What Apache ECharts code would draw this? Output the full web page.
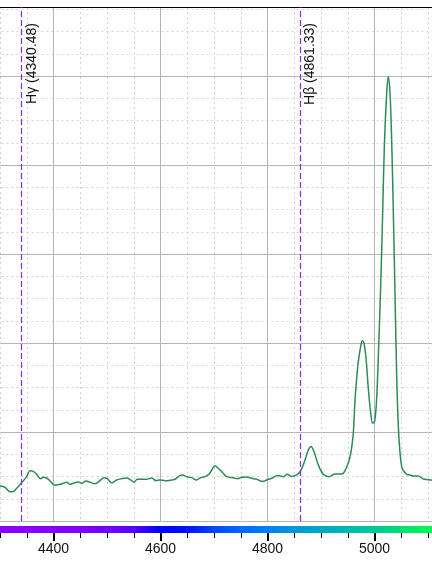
<!DOCTYPE html>
<html><head><meta charset="utf-8">
<script src="https://cdn.jsdelivr.net/npm/echarts@6/dist/echarts.min.js"></script>
<style>html,body{margin:0;padding:0;background:#fff}#c{width:432px;height:563px}</style>
</head><body><div id="c"></div>
<script>
// Spectrum (wavelength in Å, relative intensity)
const wavelength = [4300,4309.3,4318.7,4323.7,4331.2,4341.7,4349.9,4356.1,4362.2,4368.6,4376.1,4380.9,4387.3,4393.5,4402.8,4412.1,4418.3,4424.7,4430.8,4437.0,4446.4,4452.7,4460.7,4468.2,4477.6,4486.9,4494.4,4500.6,4508.8,4518.1,4527.5,4536.8,4544.3,4550.5,4556.6,4567.9,4574.2,4583.6,4591.6,4599.1,4608.4,4620.9,4627.1,4635.1,4641.5,4649.0,4658.3,4667.6,4673.8,4683.2,4691.2,4695.7,4701.9,4708.0,4716.3,4723.7,4736.1,4743.6,4751.8,4761.1,4770.5,4779.8,4791.0,4798.5,4807.9,4818.3,4823.4,4829.5,4837.0,4845.2,4854.6,4862.1,4870.1,4876.3,4881.3,4886.9,4895.0,4904.3,4915.0,4926.2,4938.7,4948.1,4954.2,4957.4,4960.4,4963.6,4966.4,4969.7,4974.2,4977.2,4980.4,4984.1,4988.4,4992.9,4996.6,5000.4,5004.1,5007.9,5011.6,5015.3,5018.3,5022.8,5025.8,5029.0,5032.2,5035.1,5038.3,5041.5,5044.5,5047.7,5050.8,5053.8,5060.2,5066.4,5072.5,5081.9,5091.2,5106.9,5115];
const intensity = [0.393,0.379,0.329,0.329,0.367,0.438,0.498,0.565,0.558,0.525,0.475,0.491,0.483,0.449,0.401,0.412,0.424,0.435,0.412,0.424,0.438,0.424,0.449,0.435,0.419,0.453,0.487,0.475,0.430,0.461,0.475,0.483,0.461,0.435,0.469,0.469,0.469,0.483,0.453,0.461,0.453,0.461,0.469,0.506,0.517,0.498,0.487,0.461,0.483,0.498,0.528,0.573,0.621,0.592,0.543,0.498,0.487,0.475,0.491,0.494,0.480,0.469,0.444,0.461,0.480,0.511,0.506,0.498,0.525,0.500,0.517,0.565,0.685,0.798,0.837,0.779,0.629,0.525,0.498,0.528,0.528,0.607,0.719,0.831,0.989,1.360,1.584,1.787,1.966,2.026,1.994,1.831,1.494,1.213,1.098,1.124,1.382,1.978,2.652,3.472,4.191,4.809,4.992,4.809,4.247,3.494,2.562,1.629,1.067,0.764,0.610,0.567,0.525,0.517,0.506,0.506,0.472,0.461,0.460];

// Reference lines
const refWavelengths = [4340.48, 4861.33];
const refNames = ['Hγ', 'Hβ'];

// Colour bar stops (every 50 Å, 4200..5200)
const barWavelengths = [4200,4250,4300,4350,4400,4450,4500,4550,4600,4650,4700,4750,4800,4850,4900,4950,5000,5050,5100,5150,5200];
const barColors = ['#8a00ff','#8a00ff','#8a00ff','#8800ff','#8500ff','#7f00ff','#7400ff','#5500ff','#0000ff','#0010ff','#0048ff','#0068ff','#0080f0','#0098d8','#00a8c4','#00b8b0','#00c898','#00e070','#00f858','#00ff50','#00ff48'];

const xMin = 4200, xMax = 5200, xInterval = 200;
const yMin = 0, yMax = 5.7753, yInterval = 1;

const spectrum = wavelength.map((w, i) => [w, intensity[i]]);
const bar = [[barWavelengths[0], 0.5], [barWavelengths[barWavelengths.length - 1], 0.5]];

const FONT = '"Liberation Sans", Arial, sans-serif';
const chart = echarts.init(document.getElementById('c'), null, {renderer: 'canvas'});
chart.setOption({
  animation: false,
  backgroundColor: '#ffffff',
  grid: [
    {left: -53.5, width: 535, top: 7, height: 514, containLabel: false, outerBoundsMode: 'none'},
    {left: -53.5, width: 535, top: 526, height: 7, containLabel: false, outerBoundsMode: 'none'}
  ],
  xAxis: [
    {gridIndex: 0, type: 'value', min: xMin, max: xMax, interval: xInterval, position: 'bottom',
     axisLine: {show: true, onZero: false, lineStyle: {color: '#b4b4b4', width: 1}},
     axisTick: {show: false}, axisLabel: {show: false},
     splitLine: {show: true, lineStyle: {color: '#b4b4b4', width: 1}},
     minorTick: {show: false, splitNumber: 4},
     minorSplitLine: {show: true, lineStyle: {color: '#d4d4d4', width: 1, type: [2, 3]}}},
    {gridIndex: 0, type: 'value', min: xMin, max: xMax, interval: xInterval, position: 'top',
     axisLine: {show: true, onZero: false, lineStyle: {color: '#000000', width: 1.2}},
     axisTick: {show: false}, axisLabel: {show: false}, splitLine: {show: false}},
    {gridIndex: 1, type: 'value', min: xMin, max: xMax, interval: xInterval, position: 'top', z: 5,
     axisLine: {show: false},
     axisTick: {show: true, inside: true, length: 8, lineStyle: {color: '#000000', width: 2}},
     minorTick: {show: true, splitNumber: 4, length: 5, lineStyle: {color: '#000000', width: 1}},
     axisLabel: {show: false}, splitLine: {show: false}},
    {gridIndex: 1, type: 'value', min: xMin, max: xMax, interval: xInterval, position: 'bottom',
     axisLine: {show: false}, axisTick: {show: false}, splitLine: {show: false},
     axisLabel: {show: true, margin: 9, color: '#111111', fontSize: 14, fontFamily: FONT,
                 formatter: v => String(v), showMinLabel: true, showMaxLabel: true}}
  ],
  yAxis: [
    {gridIndex: 0, type: 'value', min: yMin, max: yMax, interval: yInterval,
     axisLine: {show: false}, axisTick: {show: false}, axisLabel: {show: false},
     splitLine: {show: true, lineStyle: {color: '#b4b4b4', width: 1}},
     minorTick: {show: false, splitNumber: 4},
     minorSplitLine: {show: true, lineStyle: {color: '#d4d4d4', width: 1, type: [2, 3]}}},
    {gridIndex: 1, type: 'value', min: 0, max: 1, show: false}
  ],
  visualMap: [{
    type: 'continuous', show: false, seriesIndex: 1, dimension: 0,
    min: barWavelengths[0], max: barWavelengths[barWavelengths.length - 1],
    inRange: {color: barColors}
  }],
  series: [
    {type: 'line', xAxisIndex: 0, yAxisIndex: 0, data: spectrum, showSymbol: false, symbol: 'none',
     smooth: 0.35, lineStyle: {color: '#2e8b57', width: 1.5}, itemStyle: {color: '#2e8b57'}, z: 3,
     markLine: {
       silent: true, symbol: ['none', 'none'], animation: false,
       lineStyle: {color: '#8a2be2', width: 1.2, type: [6, 3]},
       label: {show: true, position: 'insideEndBottom', formatter: '{b}', color: '#111111',
               fontSize: 14, fontFamily: FONT, distance: [16, 3]},
       data: refWavelengths.map((w, i) => ({xAxis: w, name: refNames[i] + ' (' + w.toFixed(2) + ')'}))
     }},
    {type: 'line', xAxisIndex: 3, yAxisIndex: 1, data: bar, showSymbol: false, symbol: 'none',
     silent: true, lineStyle: {width: 7, cap: 'butt'}, z: 2}
  ]
});
</script>
</body></html>
